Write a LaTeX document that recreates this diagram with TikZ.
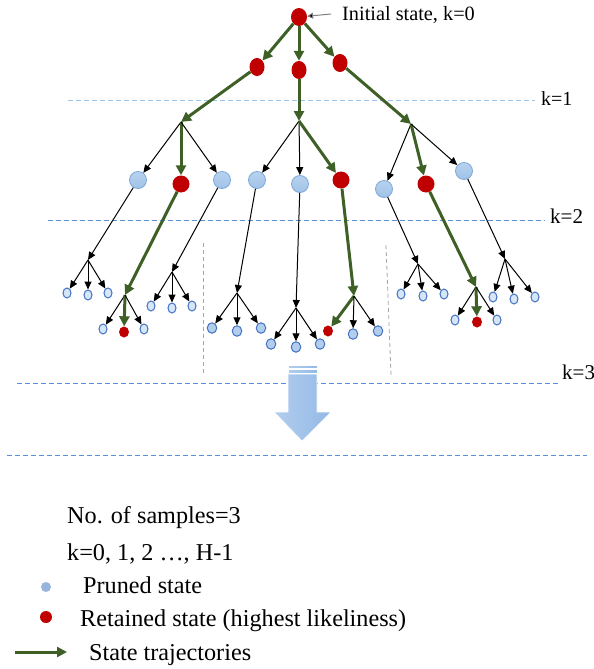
\documentclass[tikz,border=0pt]{standalone}
\usepackage{fontspec}
\setmainfont{Liberation Serif}
\usetikzlibrary{arrows.meta,shapes.geometric}

\definecolor{trajgreen}{RGB}{62,96,38}
\definecolor{keepred}{RGB}{192,0,0}
\definecolor{prunefill}{RGB}{160,195,232}
\definecolor{pruneedge}{RGB}{125,168,218}
\definecolor{leaffill}{RGB}{214,230,246}
\definecolor{leafdark}{RGB}{178,206,236}
\definecolor{leafedge}{RGB}{68,114,196}
\definecolor{klinea}{RGB}{157,195,230}
\definecolor{klineb}{RGB}{91,143,217}
\definecolor{blockl}{RGB}{178,205,238}
\definecolor{blockr}{RGB}{148,185,230}

\tikzset{
  keeptop/.style={ellipse, fill=keepred, minimum width=15pt, minimum height=18pt, inner sep=0pt},
  keepmid/.style={circle, fill=keepred, minimum size=17pt, inner sep=0pt},
  prunemid/.style={circle, top color=prunefill!75!white, bottom color=prunefill, draw=pruneedge, line width=0.8pt, minimum size=17pt, inner sep=0pt},
  leaf/.style={ellipse, fill=leaffill, draw=leafedge, line width=1pt, minimum width=8pt, minimum height=10pt, inner sep=0pt},
  leafd/.style={leaf, fill=leafdark, minimum width=9.5pt, minimum height=10.5pt},
  keepleaf/.style={ellipse, fill=keepred, minimum width=10pt, minimum height=11pt, inner sep=0pt},
  traj/.style={draw=trajgreen, line width=3pt, -{Triangle[length=10pt,width=10pt]}},
  branch/.style={draw=black, line width=1pt, -{Triangle[length=8pt,width=7pt]}},
  stepline/.style={dash pattern=on 5pt off 3pt, line width=1.1pt},
  sepline/.style={gray!70, dash pattern=on 4pt off 3pt, line width=0.8pt},
  lbl/.style={inner sep=0pt, anchor=base west},
  legendtext/.style={lbl, font=\fontsize{24.2}{29}\selectfont},
  blockpart/.style={left color=blockl, right color=blockr, draw=white, line width=0.6pt},
}

\begin{document}
\begin{tikzpicture}[x=1pt, y=-1pt]
\path[use as bounding box] (0,0) rectangle (594,669);

% step boundaries
\draw[stepline, draw=klinea] (68,100.5) -- (535,100.5);
\node[lbl, font=\fontsize{20}{24}\selectfont] (k1) at (541,105) {k=1};
\draw[stepline, draw=klineb] (48,220.5) -- (545,220.5);
\node[lbl, font=\fontsize{21}{25}\selectfont] (k2) at (550,223) {k=2};
\draw[stepline, draw=klineb] (17,383.5) -- (558,383.5);
\node[lbl, font=\fontsize{21}{25}\selectfont] (k3) at (562,379) {k=3};
\draw[stepline, draw=klineb] (7,455.5) -- (587,455.5);

% group separators
\draw[sepline] (203,243) -- (203,375);
\draw[sepline] (386,245) -- (391,375);

% initial state and the three first-step samples
\node[keeptop, minimum width=16pt] (root) at (299,17) {};
\node[lbl, font=\fontsize{20.3}{24}\selectfont] (init) at (342,21) {Initial state, k=0};
\coordinate (initpt) at (331,14);
\draw[gray, line width=1pt, -{Triangle[length=6pt,width=6pt,fill=black]}] (initpt) -- (root);

\node[keeptop] (s1a) at (257,67) {};
\node[keeptop] (s1b) at (299,70) {};
\node[keeptop] (s1c) at (340,63) {};
\draw[traj] (root) -- (s1a);
\draw[traj] (root) -- (s1b);
\draw[traj] (root) -- (s1c);

% branching points after k=1
\coordinate (P1) at (181,122);
\coordinate (P2) at (299,121);
\coordinate (P3) at (411,124);
\draw[traj] (s1a) -- (P1);
\draw[traj] (s1b) -- (P2);
\draw[traj] (s1c) -- (P3);

% second-step samples
\node[prunemid] (n1) at (138,180) {};
\node[keepmid]  (n2) at (181,184) {};
\node[prunemid] (n3) at (222,180) {};
\node[prunemid] (n4) at (257,180) {};
\node[prunemid] (n5) at (300,184) {};
\node[keepmid]  (n6) at (341,180) {};
\node[prunemid] (n7) at (384,189) {};
\node[keepmid]  (n8) at (426,184) {};
\node[prunemid] (n9) at (464,171) {};

\draw[branch] (P1) -- (n1);
\draw[traj]   (P1) -- (n2);
\draw[branch] (P1) -- (n3);
\draw[branch] (P2) -- (n4);
\draw[branch] (P2) -- (n5);
\draw[traj]   (P2) -- (n6);
\draw[branch] (P3) -- (n7);
\draw[traj]   (P3) -- (n8);
\draw[branch] (P3) -- (n9);

% branching points after k=2
\coordinate (Q1) at (88,260);
\coordinate (Q2) at (125,295);
\coordinate (Q3) at (172,272);
\coordinate (Q4) at (237,293);
\coordinate (Q5) at (296,308);
\coordinate (Q6) at (354,296);
\coordinate (Q7) at (418,264);
\coordinate (Q8) at (476,287);
\coordinate (Q9) at (505,259);

\draw[branch] (n1) -- (Q1);
\draw[traj]   (n2) -- (Q2);
\draw[branch] (n3) -- (Q3);
\draw[branch] (n4) -- (Q4);
\draw[branch] (n5) -- (Q5);
\draw[traj]   (n6) -- (Q6);
\draw[branch] (n7) -- (Q7);
\draw[traj]   (n8) -- (Q8);
\draw[branch] (n9) -- (Q9);

% pruned third-step samples
\foreach \q/\st/\xa/\ya/\xb/\yb/\xc/\yc in {
    Q1/leaf/67/293/88/295/108/293,
    Q3/leaf/151/306/172/308/192/306,
    Q4/leafd/212/328/237/331/261/328,
    Q5/leafd/271/344/296/347/320/344,
    Q7/leaf/401/294/423/296/444/294,
    Q9/leaf/493/297/514/299/535/297} {
  \node[\st] (\q a) at (\xa,\ya) {};
  \node[\st] (\q b) at (\xb,\yb) {};
  \node[\st] (\q c) at (\xc,\yc) {};
  \draw[branch] (\q) -- (\q a);
  \draw[branch] (\q) -- (\q b);
  \draw[branch] (\q) -- (\q c);
}

% groups that hold a retained third-step sample
\node[leaf]     (Q2a) at (103,329) {};
\node[keepleaf] (Q2b) at (124,332) {};
\node[leaf]     (Q2c) at (144,329) {};
\draw[branch] (Q2) -- (Q2a);
\draw[traj]   (Q2) -- (Q2b);
\draw[branch] (Q2) -- (Q2c);

\node[keepleaf] (Q6a) at (328,331) {};
\node[leafd]    (Q6b) at (353,334) {};
\node[leafd]    (Q6c) at (378,331) {};
\draw[traj]   (Q6) -- (Q6a);
\draw[branch] (Q6) -- (Q6b);
\draw[branch] (Q6) -- (Q6c);

\node[leaf]     (Q8a) at (455,320) {};
\node[keepleaf] (Q8b) at (477,322) {};
\node[leaf]     (Q8c) at (497,320) {};
\draw[branch] (Q8) -- (Q8a);
\draw[traj]   (Q8) -- (Q8b);
\draw[branch] (Q8) -- (Q8c);

% block arrow continuing the horizon
\shade[blockpart] (288,365) rectangle (317,368.5);
\shade[blockpart] (288,369) rectangle (317,373);
\shade[blockpart]
  (288,374) -- (317,374) -- (317,412) -- (331,412) -- (302,441) -- (274,412) -- (288,412) -- cycle;

% legend
\node[legendtext] (lg1) at (67,523) {No. of samples=3};
\node[legendtext] (lg2) at (67,560) {k=0, 1, 2 \dots, H-1};
\node[circle, fill={rgb,255:red,150;green,180;blue,222}, minimum size=10pt, inner sep=0pt] (lgp) at (46,587) {};
\node[legendtext] (lg3) at (83,593) {Pruned state};
\node[circle, fill=keepred, minimum size=12pt, inner sep=0pt] (lgr) at (46,617) {};
\node[legendtext] (lg4) at (80,626) {Retained state (highest likeliness)};
\coordinate (lga) at (15,652);
\coordinate (lgb) at (67,652);
\draw[traj] (lga) -- (lgb);
\node[legendtext] (lg5) at (89,660) {State trajectories};
\end{tikzpicture}
\end{document}
